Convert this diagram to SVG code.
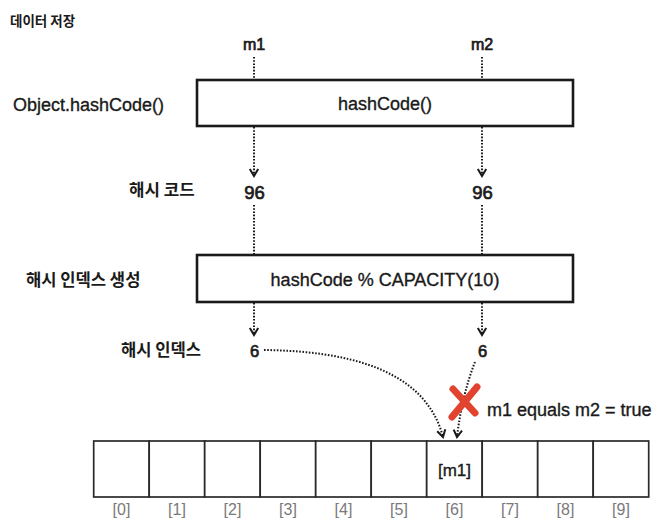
<svg xmlns="http://www.w3.org/2000/svg" width="671" height="528" viewBox="0 0 671 528">
<style>
.lat{font-family:"Liberation Sans",Arial,sans-serif;fill:#1a1a1a;stroke:#1a1a1a;stroke-width:0.35}
.num{font-family:"Liberation Sans",Arial,sans-serif;fill:#1a1a1a;stroke:#1a1a1a;stroke-width:0.7}
.kor{font-family:"Noto Sans CJK KR","Noto Sans",sans-serif;font-weight:700;fill:#1a1a1a}
.idx{font-family:"Liberation Sans",Arial,sans-serif;fill:#7a7a7a;font-size:16px;text-anchor:middle}
.box{fill:#fff;stroke:#1a1a1a;stroke-width:2.6}
.cell{fill:#fff;stroke:#2a2a2a;stroke-width:1.7}
.dot{fill:none;stroke:#1a1a1a;stroke-width:2;stroke-dasharray:1.6 1.6}
.arr{marker-end:url(#ah)}
</style>
<defs>
<marker id="ah" markerUnits="userSpaceOnUse" viewBox="-10 -6 12 12" refX="0" refY="0" markerWidth="12" markerHeight="12" orient="auto">
<path d="M-7,-4.2 L0,0 L-7,4.2" fill="none" stroke="#1a1a1a" stroke-width="2"/>
</marker>
</defs>
<rect width="671" height="528" fill="#fff"/>
<g id="title"><text class="kor" x="10" y="26" font-size="13.5">데이터 저장</text></g>
<g id="label-m1"><text class="num" x="254" y="50" font-size="16" text-anchor="middle">m1</text></g>
<g id="label-m2"><text class="num" x="482" y="50" font-size="16" text-anchor="middle">m2</text></g>
<g id="label-object-hashcode"><text class="lat" x="13" y="111" font-size="18">Object.hashCode()</text></g>
<g id="box-hashcode"><rect class="box" x="197" y="80" width="376" height="46"/><text class="lat" x="385" y="110" font-size="18" text-anchor="middle">hashCode()</text></g>
<g id="label-hashcode"><text class="kor" x="129" y="196" font-size="16.8">해시 코드</text></g>
<g id="hash-m1"><text class="num" x="254.5" y="199" font-size="18.5" text-anchor="middle">96</text></g>
<g id="hash-m2"><text class="num" x="482.5" y="199" font-size="18.5" text-anchor="middle">96</text></g>
<g id="label-index-gen"><text class="kor" x="26" y="286" font-size="16.6">해시 인덱스 생성</text></g>
<g id="box-capacity"><rect class="box" x="197" y="255" width="376" height="47"/><text class="lat" x="385" y="286" font-size="18" text-anchor="middle">hashCode % CAPACITY(10)</text></g>
<g id="label-index"><text class="kor" x="121" y="356" font-size="16.6">해시 인덱스</text></g>
<g id="index-m1"><text class="num" x="254.5" y="357" font-size="16.5" text-anchor="middle">6</text></g>
<g id="index-m2"><text class="num" x="482.5" y="357" font-size="16.5" text-anchor="middle">6</text></g>
<g id="connectors">
<line class="dot" x1="254" y1="57" x2="254" y2="79"/>
<line class="dot" x1="482" y1="57" x2="482" y2="79"/>
<line class="dot arr" x1="254" y1="127" x2="254" y2="176"/>
<line class="dot arr" x1="482" y1="127" x2="482" y2="176"/>
<line class="dot" x1="254" y1="205" x2="254" y2="254"/>
<line class="dot" x1="482" y1="205" x2="482" y2="254"/>
<line class="dot arr" x1="254" y1="303" x2="254" y2="335"/>
<line class="dot arr" x1="482" y1="303" x2="482" y2="335"/>
<path class="dot arr" d="M264,350 C345,351 425,368 443,437"/>
<path class="dot arr" d="M475,362 Q462,395 457,437"/>
</g>
<g id="reject-mark">
<path d="M477,387 L452,417" stroke="#e2432f" stroke-width="7" stroke-linecap="round" fill="none"/>
<path d="M453,389 L475,413" stroke="#e2432f" stroke-width="7" stroke-linecap="round" fill="none"/>
</g>
<g id="label-equals"><text class="lat" x="487" y="416" font-size="18">m1 equals m2 = true</text></g>
<g id="array">
<rect class="cell" x="93.7" y="441" width="55.5" height="56"/>
<rect class="cell" x="149.2" y="441" width="55.5" height="56"/>
<rect class="cell" x="204.7" y="441" width="55.5" height="56"/>
<rect class="cell" x="260.2" y="441" width="55.5" height="56"/>
<rect class="cell" x="315.7" y="441" width="55.5" height="56"/>
<rect class="cell" x="371.2" y="441" width="55.5" height="56"/>
<rect class="cell" x="426.7" y="441" width="55.5" height="56"/>
<rect class="cell" x="482.2" y="441" width="55.5" height="56"/>
<rect class="cell" x="537.7" y="441" width="55.5" height="56"/>
<rect class="cell" x="593.2" y="441" width="55.5" height="56"/>
<text class="lat" x="454.5" y="476" font-size="17" text-anchor="middle">[m1]</text>
<text class="idx" x="121.5" y="515">[0]</text>
<text class="idx" x="177" y="515">[1]</text>
<text class="idx" x="232.5" y="515">[2]</text>
<text class="idx" x="288" y="515">[3]</text>
<text class="idx" x="343.5" y="515">[4]</text>
<text class="idx" x="399" y="515">[5]</text>
<text class="idx" x="454.5" y="515">[6]</text>
<text class="idx" x="510" y="515">[7]</text>
<text class="idx" x="565.5" y="515">[8]</text>
<text class="idx" x="621" y="515">[9]</text>
</g>
</svg>
